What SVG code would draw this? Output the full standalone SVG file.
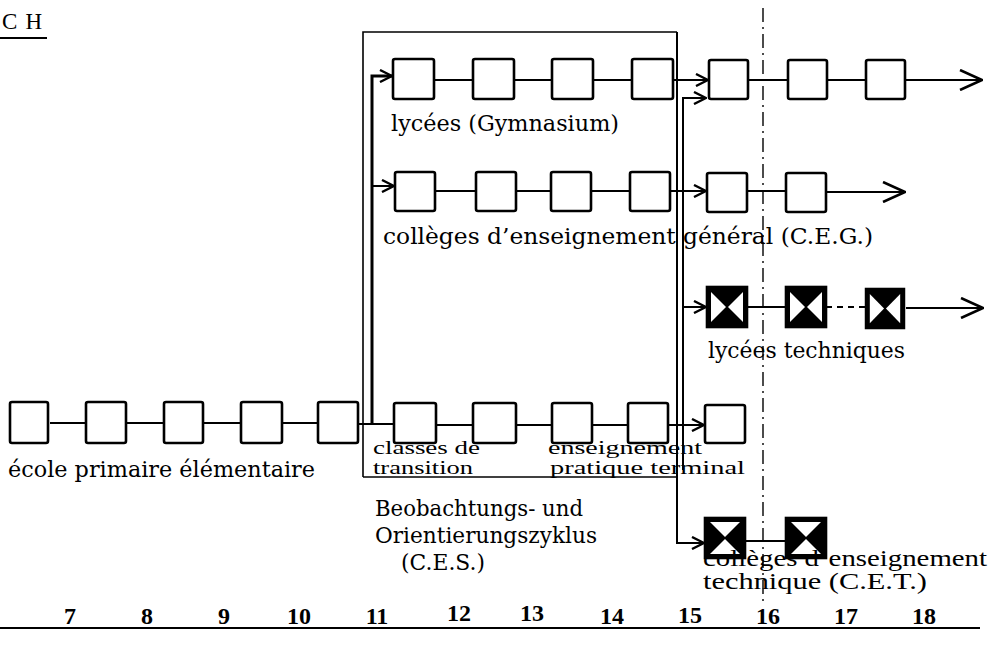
<svg xmlns="http://www.w3.org/2000/svg" width="989" height="645" viewBox="0 0 989 645">
  <style>
    .box { fill: #fff; stroke: #000; stroke-width: 2.6; }
    .ln { fill: none; stroke: #000; stroke-width: 2; }
    .thin { fill: none; stroke: #000; stroke-width: 1.6; }
    .thick { fill: none; stroke: #000; stroke-width: 3; }
    .lbl { font-family: "DejaVu Serif", "Liberation Serif", serif; font-size: 22px; fill: #000; }
    .tw { font-family: "Liberation Serif", "DejaVu Serif", serif; font-size: 23px; fill: #000; }
    .tw2 { font-family: "Liberation Serif", "DejaVu Serif", serif; font-size: 18px; fill: #000; }
    .num { font-family: "Liberation Serif", serif; font-size: 24px; font-weight: bold; fill: #000; text-anchor: middle; }
  </style>
  <defs>
    <marker id="arr" viewBox="0 0 14 14" refX="13" refY="7" markerWidth="14" markerHeight="14" markerUnits="userSpaceOnUse" orient="auto">
      <path d="M1,1 L13,7 L1,13" fill="none" stroke="#000" stroke-width="2.4"/>
    </marker>
    <marker id="arrL" viewBox="0 0 24 22" refX="23" refY="11" markerWidth="24" markerHeight="22" markerUnits="userSpaceOnUse" orient="auto">
      <path d="M1,1 L23,11 L1,21" fill="none" stroke="#000" stroke-width="2.6"/>
    </marker>
    <!-- hourglass pattern box: black top/bottom, white left/right -->
    <g id="hg">
      <rect x="0" y="0" width="40" height="40" fill="#000" stroke="#000" stroke-width="2.6"/>
      <polygon points="4,5 19,20 4,35" fill="#fff"/>
      <polygon points="36,5 21,20 36,35" fill="#fff"/>
    </g>
    <!-- bowtie pattern box: black left/right, white top/bottom -->
    <g id="bt">
      <rect x="0" y="0" width="40" height="40" fill="#000" stroke="#000" stroke-width="2.6"/>
      <polygon points="5,4 20,19 35,4" fill="#fff"/>
      <polygon points="5,36 20,21 35,36" fill="#fff"/>
    </g>
  </defs>

  <!-- country heading -->
  <g id="heading">
    <text x="2" y="29" class="tw" font-size="22" textLength="40" lengthAdjust="spacing">C H</text>
    <line x1="0" y1="38" x2="47" y2="38" stroke="#000" stroke-width="2.2"/>
  </g>

  <!-- connectors -->
  <g id="connectors">
    <!-- C.E.S. frame and its right-hand branch down to the C.E.T. -->
    <path class="thin" d="M363,477 V32 H677"/>
    <path class="ln" d="M677,32 V543 H704" marker-end="url(#arr)"/>
    <line class="thin" x1="363" y1="477" x2="677" y2="477"/>
    <!-- distribution line inside the frame (left) -->
    <path class="thick" d="M372,425 V76 H392" marker-end="url(#arr)"/>
    <path class="ln" d="M372,186 H394" marker-end="url(#arr)"/>
    <!-- distribution line on the right -->
    <path class="ln" d="M683,470 V98 H706" marker-end="url(#arr)"/>
    <path class="ln" d="M683,307 H706" marker-end="url(#arr)"/>

    <!-- lycées row -->
    <line class="ln" x1="434" y1="80" x2="473" y2="80"/>
    <line class="ln" x1="514" y1="80" x2="552" y2="80"/>
    <line class="ln" x1="593" y1="80" x2="632" y2="80"/>
    <line class="ln" x1="673" y1="80" x2="708" y2="80" marker-end="url(#arr)"/>
    <line class="ln" x1="748" y1="80" x2="788" y2="80"/>
    <line class="ln" x1="827" y1="80" x2="866" y2="80"/>
    <line class="ln" x1="905" y1="80" x2="982" y2="80" marker-end="url(#arrL)"/>

    <!-- C.E.G. row -->
    <line class="ln" x1="435" y1="191" x2="476" y2="191"/>
    <line class="ln" x1="516" y1="191" x2="551" y2="191"/>
    <line class="ln" x1="591" y1="191" x2="630" y2="191"/>
    <line class="ln" x1="670" y1="191" x2="706" y2="191" marker-end="url(#arr)"/>
    <line class="ln" x1="747" y1="191" x2="786" y2="191"/>
    <line class="ln" x1="826" y1="192" x2="905" y2="192" marker-end="url(#arrL)"/>

    <!-- lycées techniques row -->
    <line class="ln" x1="747" y1="307" x2="786" y2="307"/>
    <line class="ln" x1="826" y1="307" x2="866" y2="307" stroke-dasharray="6,5"/>
    <line class="ln" x1="906" y1="308" x2="983" y2="308" marker-end="url(#arrL)"/>

    <!-- primary / C.E.S. row -->
    <line class="ln" x1="50" y1="423" x2="86" y2="423"/>
    <line class="ln" x1="126" y1="423" x2="164" y2="423"/>
    <line class="ln" x1="204" y1="423" x2="241" y2="423"/>
    <line class="ln" x1="281" y1="423" x2="318" y2="423"/>
    <line class="ln" x1="358" y1="424" x2="394" y2="424"/>
    <line class="ln" x1="434" y1="425" x2="473" y2="425"/>
    <line class="ln" x1="513" y1="425" x2="552" y2="425"/>
    <line class="ln" x1="592" y1="425" x2="628" y2="425"/>
    <line class="ln" x1="668" y1="425" x2="704" y2="425" marker-end="url(#arr)"/>

    <!-- C.E.T. row -->
    <line class="ln" x1="745" y1="541" x2="786" y2="541"/>

    <!-- age 16 boundary -->
    <line x1="763" y1="8" x2="763" y2="606" stroke="#000" stroke-width="1.4" stroke-dasharray="14,5,2,5"/>
  </g>

  <!-- lycées (Gymnasium) -->
  <g id="lycees">
    <rect class="box" x="393" y="59" width="41" height="40" rx="2"/>
    <rect class="box" x="473" y="59" width="41" height="40" rx="2"/>
    <rect class="box" x="552" y="59" width="41" height="40" rx="2"/>
    <rect class="box" x="632" y="59" width="41" height="40" rx="2"/>
    <rect class="box" x="709" y="60" width="39" height="39" rx="2"/>
    <rect class="box" x="788" y="60" width="39" height="39" rx="2"/>
    <rect class="box" x="866" y="60" width="39" height="39" rx="2"/>
    <text x="391" y="131" class="lbl" textLength="228" lengthAdjust="spacingAndGlyphs">lycées (Gymnasium)</text>
  </g>

  <!-- collèges d'enseignement général -->
  <g id="ceg">
    <rect class="box" x="395" y="172" width="40" height="39" rx="2"/>
    <rect class="box" x="476" y="172" width="40" height="39" rx="2"/>
    <rect class="box" x="551" y="172" width="40" height="39" rx="2"/>
    <rect class="box" x="630" y="172" width="40" height="39" rx="2"/>
    <rect class="box" x="707" y="173" width="40" height="39" rx="2"/>
    <rect class="box" x="786" y="173" width="40" height="39" rx="2"/>
    <text x="383" y="244" class="lbl" textLength="490" lengthAdjust="spacingAndGlyphs">collèges d’enseignement général (C.E.G.)</text>
  </g>

  <!-- lycées techniques -->
  <g id="lycees-techniques">
    <use href="#hg" x="707" y="287"/>
    <use href="#hg" x="786" y="287"/>
    <use href="#hg" transform="translate(866,289) scale(0.95,0.975)"/>
    <text x="708" y="358" class="lbl" textLength="197" lengthAdjust="spacingAndGlyphs">lycées techniques</text>
  </g>

  <!-- école primaire élémentaire -->
  <g id="primaire">
    <rect class="box" x="10" y="402" width="38" height="41" rx="2"/>
    <rect class="box" x="86" y="402" width="40" height="41" rx="2"/>
    <rect class="box" x="164" y="402" width="39" height="41" rx="2"/>
    <rect class="box" x="241" y="402" width="41" height="41" rx="2"/>
    <rect class="box" x="318" y="402" width="40" height="41" rx="2"/>
    <text x="8" y="477" class="lbl" textLength="307" lengthAdjust="spacingAndGlyphs">école primaire élémentaire</text>
  </g>

  <!-- cycle d'observation et d'orientation (C.E.S.) -->
  <g id="ces">
    <rect class="box" x="394" y="403" width="42" height="40" rx="2"/>
    <rect class="box" x="473" y="403" width="43" height="40" rx="2"/>
    <rect class="box" x="552" y="403" width="40" height="40" rx="2"/>
    <rect class="box" x="628" y="403" width="40" height="40" rx="2"/>
    <rect class="box" x="705" y="405" width="40" height="38" rx="2"/>
    <text x="373" y="454" class="tw2" textLength="107" lengthAdjust="spacingAndGlyphs">classes de</text>
    <text x="373" y="474" class="tw2" textLength="100" lengthAdjust="spacingAndGlyphs">transition</text>
    <text x="548" y="454" class="tw2" textLength="154" lengthAdjust="spacingAndGlyphs">enseignement</text>
    <text x="550" y="474" class="tw2" textLength="195" lengthAdjust="spacingAndGlyphs">pratique terminal</text>
    <text x="375" y="516" class="lbl" textLength="208" lengthAdjust="spacingAndGlyphs">Beobachtungs- und</text>
    <text x="375" y="543" class="lbl" textLength="222" lengthAdjust="spacingAndGlyphs">Orientierungszyklus</text>
    <text x="401" y="570" class="lbl" textLength="84" lengthAdjust="spacingAndGlyphs">(C.E.S.)</text>
  </g>

  <!-- collèges d'enseignement technique -->
  <g id="cet">
    <use href="#bt" x="705" y="518"/>
    <use href="#bt" x="786" y="518"/>
    <text x="703" y="566" class="tw" textLength="284" lengthAdjust="spacingAndGlyphs">collèges d’enseignement</text>
    <text x="703" y="589" class="tw" textLength="224" lengthAdjust="spacingAndGlyphs">technique (C.E.T.)</text>
  </g>

  <!-- age axis -->
  <g id="axis">
    <line x1="0" y1="628" x2="980" y2="628" stroke="#000" stroke-width="2"/>
    <text class="num" x="70" y="624">7</text>
    <text class="num" x="147" y="624">8</text>
    <text class="num" x="224" y="624">9</text>
    <text class="num" x="299" y="624">10</text>
    <text class="num" x="377" y="624">11</text>
    <text class="num" x="459" y="621">12</text>
    <text class="num" x="532" y="621">13</text>
    <text class="num" x="612" y="624">14</text>
    <text class="num" x="690" y="623">15</text>
    <text class="num" x="768" y="624">16</text>
    <text class="num" x="846" y="624">17</text>
    <text class="num" x="924" y="624">18</text>
  </g>
</svg>
